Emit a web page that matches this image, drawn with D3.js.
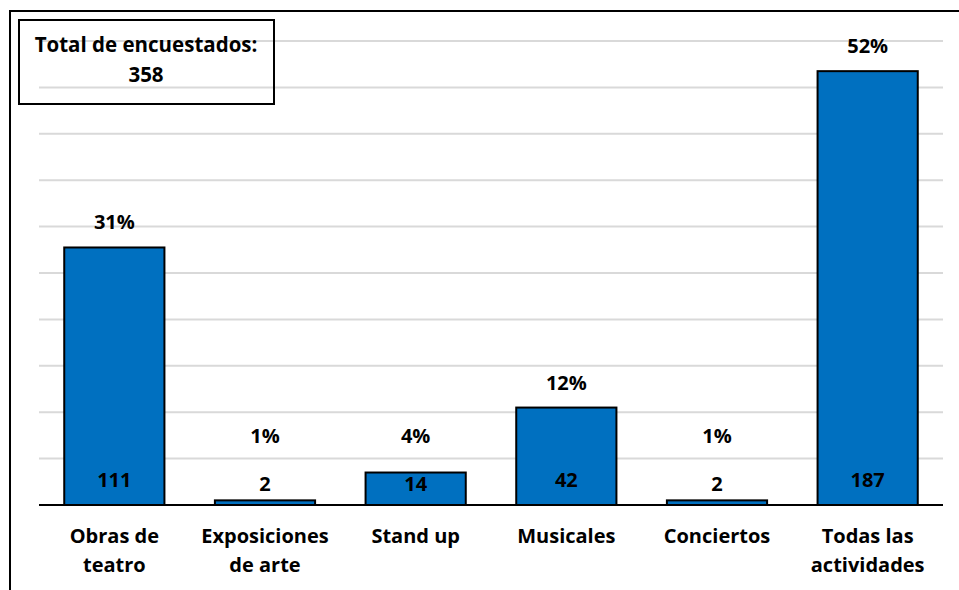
<!DOCTYPE html>
<html>
<head>
<meta charset="utf-8">
<script src="https://cdn.jsdelivr.net/npm/d3@7/dist/d3.min.js"></script>
<style>
  html, body { margin: 0; padding: 0; background: #fff; }
  svg { display: block; }
  text { font-family: "Open Sans", "Liberation Sans", sans-serif; font-weight: 700; fill: #000; }
</style>
</head>
<body>
<svg id="chart" width="959" height="590"></svg>
<script>
// Survey: preferred cultural activities
const categories = [["Obras de", "teatro"], ["Exposiciones", "de arte"], ["Stand up"], ["Musicales"], ["Conciertos"], ["Todas las", "actividades"]];
const counts = [111, 2, 14, 42, 2, 187];
const percents = ["31%", "1%", "4%", "12%", "1%", "52%"];
const gridTicks = [20, 40, 60, 80, 100, 120, 140, 160, 180, 200];
const totalLabel = "Total de encuestados:";
const totalValue = "358";

const svg = d3.select("#chart");
const W = 959, H = 590;
const plot = { left: 39, right: 943, top: 41, bottom: 505 };
const fs = 20;

// outer frame
svg.append("rect")
  .attr("x", 10).attr("y", 11)
  .attr("width", W + 20).attr("height", H + 20)
  .attr("fill", "none").attr("stroke", "#000").attr("stroke-width", 2);

const x = d3.scaleBand()
  .domain(d3.range(counts.length))
  .range([plot.left, plot.right])
  .paddingInner(0.335).paddingOuter(0.1675);

const y = d3.scaleLinear().domain([0, 200]).range([plot.bottom, plot.top]);

// horizontal gridlines
svg.append("g").selectAll("line")
  .data(gridTicks)
  .join("line")
  .attr("x1", plot.left).attr("x2", plot.right)
  .attr("y1", d => y(d)).attr("y2", d => y(d))
  .attr("stroke", "#d9d9d9").attr("stroke-width", 2);

// bars
svg.append("g").selectAll("rect")
  .data(counts)
  .join("rect")
  .attr("x", (d, i) => x(i))
  .attr("y", d => y(d))
  .attr("width", x.bandwidth())
  .attr("height", d => y(0) - y(d))
  .attr("fill", "#0070C0")
  .attr("stroke", "#000").attr("stroke-width", 2);

// category axis baseline
const xAxis = d3.axisBottom(x).tickSize(0).tickFormat("");
const axisG = svg.append("g").attr("transform", `translate(0,${plot.bottom})`).call(xAxis);
axisG.select(".domain").attr("stroke", "#000").attr("stroke-width", 2)
  .attr("d", `M${plot.left},0H${plot.right}`);

// category labels (wrapped)
const catG = svg.append("g");
categories.forEach((lines, i) => {
  const t = catG.append("text")
    .attr("x", x(i) + x.bandwidth() / 2)
    .attr("text-anchor", "middle")
    .attr("font-size", fs);
  lines.forEach((ln, k) => {
    t.append("tspan")
      .attr("x", x(i) + x.bandwidth() / 2)
      .attr("y", 543 + k * 29)
      .text(ln);
  });
});

// count labels at the base of each bar
svg.append("g").selectAll("text")
  .data(counts)
  .join("text")
  .attr("x", (d, i) => x(i) + x.bandwidth() / 2)
  .attr("y", d => Math.max(487, Math.min(y(d) + 24, 491)))
  .attr("text-anchor", "middle")
  .attr("font-size", fs)
  .text(d => d);

// percentage labels above bars
svg.append("g").selectAll("text")
  .data(percents)
  .join("text")
  .attr("x", (d, i) => x(i) + x.bandwidth() / 2)
  .attr("y", (d, i) => Math.min(y(counts[i]) - 18, 443))
  .attr("text-anchor", "middle")
  .attr("font-size", fs)
  .text(d => d);

// total respondents box
svg.append("rect")
  .attr("x", 19).attr("y", 20).attr("width", 255).attr("height", 84)
  .attr("fill", "none").attr("stroke", "#000").attr("stroke-width", 2);
svg.append("text").attr("x", 146).attr("y", 52).attr("text-anchor", "middle")
  .attr("font-size", 20.5).text(totalLabel);
svg.append("text").attr("x", 146).attr("y", 82).attr("text-anchor", "middle")
  .attr("font-size", 20.5).text(totalValue);
</script>
</body>
</html>
